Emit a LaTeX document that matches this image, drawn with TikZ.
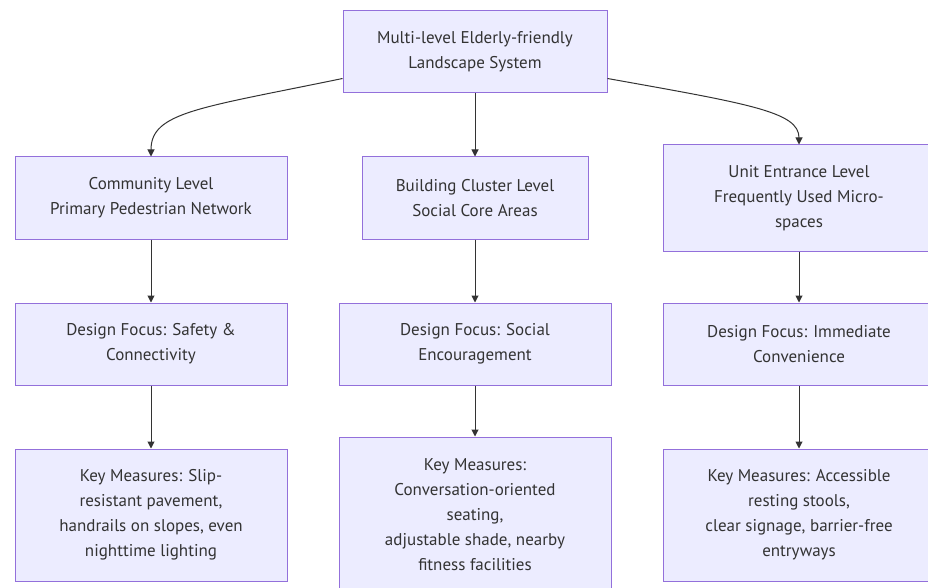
\documentclass[tikz,border=0pt]{standalone}
\usepackage{fontspec}
\setmainfont{PT Sans}
\usetikzlibrary{arrows.meta}
\definecolor{boxfill}{HTML}{ECECFF}
\definecolor{boxline}{HTML}{9370DB}
\definecolor{txt}{HTML}{333333}
\tikzset{
  box/.style={draw=boxline, fill=boxfill, line width=1pt, text=txt, align=center,
    font=\fontsize{17pt}{25pt}\selectfont, inner sep=0pt, anchor=center,
    execute at begin node={\rule{0pt}{16.5pt}}},
  conn/.style={draw=txt, line width=1pt, -{Triangle[length=7pt,width=7pt]}}
}
\begin{document}
\begin{tikzpicture}[x=1pt,y=-1pt]
\useasboundingbox (0,0) rectangle (928,588);
\fill[white] (0,0) rectangle (928,588);
\node[box, minimum width=264pt, minimum height=82pt] (top) at (475,52) {Multi-level Elderly-friendly\\Landscape System};
\node[box, minimum width=272pt, minimum height=82pt] (c1) at (151,198) {Community Level\\Primary Pedestrian Network};
\node[box, minimum width=226pt, minimum height=82pt] (c2) at (475,198) {Building Cluster Level\\Social Core Areas};
\node[box, minimum width=272pt, minimum height=106pt] (c3) at (799,198) {Unit Entrance Level\\Frequently Used Micro-\\spaces};
\node[box, minimum width=272pt, minimum height=82pt] (d1) at (151,344) {Design Focus: Safety \&\\Connectivity};
\node[box, minimum width=272pt, minimum height=82pt] (d2) at (475,344) {Design Focus: Social\\Encouragement};
\node[box, minimum width=272pt, minimum height=82pt] (d3) at (799,344) {Design Focus: Immediate\\Convenience};
\node[box, minimum width=272pt, minimum height=132pt] (k1) at (151,515) {Key Measures: Slip-\\resistant pavement,\\handrails on slopes, even\\nighttime lighting};
\node[box, minimum width=272pt, minimum height=156pt] (k2) at (475,515) {Key Measures:\\Conversation-oriented\\seating,\\adjustable shade, nearby\\fitness facilities};
\node[box, minimum width=272pt, minimum height=132pt] (k3) at (799,515) {Key Measures: Accessible\\resting stools,\\clear signage, barrier-free\\entryways};
\draw[conn] ([yshift=15pt]top.south west) .. controls (200,108) and (151,112) .. (c1.north);
\draw[conn] (top.south) -- (c2.north);
\draw[conn] ([yshift=15pt]top.south east) .. controls (750,104) and (799,112) .. (c3.north);
\draw[conn] (c1.south) -- (d1.north);
\draw[conn] (c2.south) -- (d2.north);
\draw[conn] (c3.south) -- (d3.north);
\draw[conn] (d1.south) -- (k1.north);
\draw[conn] (d2.south) -- (k2.north);
\draw[conn] (d3.south) -- (k3.north);
\end{tikzpicture}
\end{document}
